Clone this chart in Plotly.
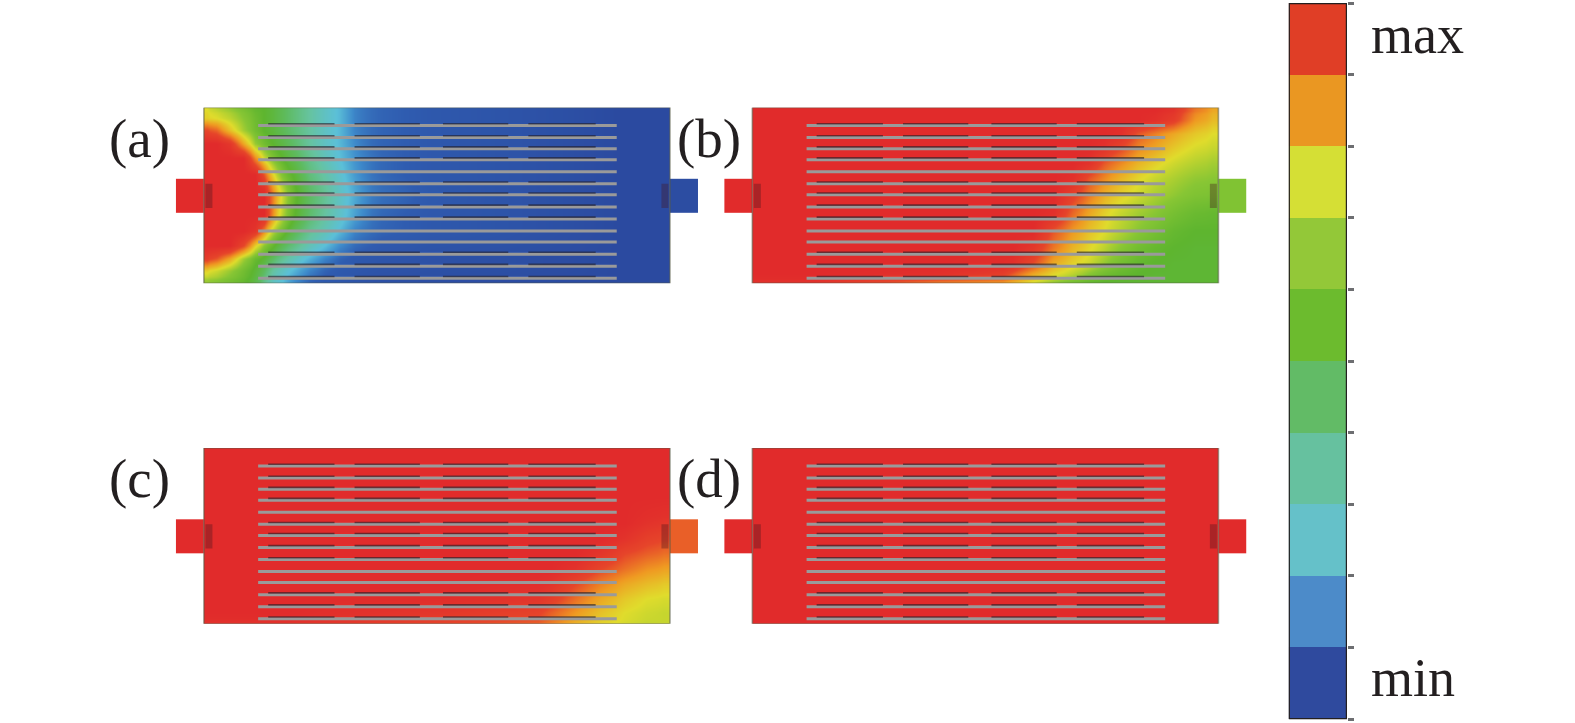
import plotly.graph_objects as go

W, H = 1575, 723
SCALE = 1575 / 1568  # layout numbers below were measured on a 1568 px wide view

# ---- colour scales
FIELD_STOPS = [0, 0.07, 0.13, 0.2, 0.3, 0.4, 0.5, 0.6, 0.7, 0.8, 0.9, 1]
FIELD_COLORS = ["#2b4aa0", "#2f5cb0", "#3f8ccc", "#5cc0d8", "#66c3a0", "#5ebb60",
                "#5eb52f", "#88c634", "#e0dc2c", "#ef9a22", "#e6452a", "#e12b2b"]
BAND_COLORS = ["#2f4a9e", "#4c8bc9", "#65c1c9", "#66c19f", "#62bb66",
               "#6cbb2e", "#93c838", "#d5df35", "#ea9722", "#e03e26"]
BAND_EDGES = [0, 1, 2, 3, 4, 5, 6, 7, 8, 9, 10]

# ---- panel a
XA = [0, 12, 25, 40, 52, 60, 68, 78, 90, 105, 120, 135, 150, 165, 190, 260, 464]
YA = [0, 10, 22, 35, 50, 65, 87, 108, 123, 138, 150, 162, 175]
ZA = [
    [.70, .66, .62, .57, .52, .50, .47, .42, .36, .30, .24, .19, .12, .09, .07, .04, 0],
    [.72, .70, .66, .60, .54, .50, .47, .42, .36, .30, .24, .19, .12, .09, .07, .04, 0],
    [.90, .86, .74, .63, .55, .50, .47, .42, .36, .30, .24, .19, .12, .09, .07, .04, 0],
    [1, 1, .95, .78, .62, .55, .50, .45, .38, .30, .24, .19, .13, .09, .07, .04, 0],
    [1, 1, 1, 1, .82, .68, .58, .50, .42, .33, .26, .20, .14, .10, .07, .04, 0],
    [1, 1, 1, 1, 1, .88, .72, .58, .48, .36, .29, .22, .15, .10, .07, .04, 0],
    [1, 1, 1, 1, 1, 1, .84, .68, .52, .40, .32, .24, .17, .11, .08, .04, 0],
    [1, 1, 1, 1, 1, 1, .82, .65, .50, .38, .30, .23, .16, .10, .07, .04, 0],
    [1, 1, 1, 1, .96, .82, .66, .55, .42, .32, .26, .19, .12, .09, .07, .04, 0],
    [1, 1, 1, .90, .72, .60, .52, .42, .34, .26, .20, .13, .09, .07, .05, .03, 0],
    [.93, .88, .78, .63, .53, .48, .40, .32, .25, .18, .12, .08, .06, .05, .04, .02, 0],
    [.72, .68, .62, .55, .48, .40, .30, .24, .18, .12, .08, .06, .05, .04, .03, .02, 0],
    [.62, .60, .56, .52, .45, .34, .25, .20, .13, .08, .06, .05, .04, .03, .02, .01, 0],
]

# ---- panel b
XB = [0, 240, 258, 280, 300, 320, 335, 350, 365, 385, 400, 418, 440, 464]
YB = [0, 12, 25, 40, 55, 70, 87, 105, 123, 140, 155, 165, 175]
ZB = [
    [1, 1, 1, 1, 1, 1, 1, 1, 1, 1, 1, .97, .84, .78],
    [1, 1, 1, 1, 1, 1, 1, 1, 1, 1, .98, .93, .80, .75],
    [1, 1, 1, 1, 1, 1, 1, 1, .98, .88, .83, .78, .73, .70],
    [1, 1, 1, 1, 1, 1, 1, .97, .90, .82, .78, .73, .69, .67],
    [1, 1, 1, 1, 1, 1, .97, .88, .82, .76, .72, .68, .65, .63],
    [1, 1, 1, 1, 1, .98, .88, .82, .76, .71, .67, .64, .61, .60],
    [1, 1, 1, 1, 1, .92, .84, .77, .72, .68, .64, .61, .58, .57],
    [1, 1, 1, 1, .98, .86, .78, .72, .67, .63, .60, .56, .53, .52],
    [1, 1, 1, 1, .88, .80, .74, .70, .65, .60, .56, .52, .50, .50],
    [1, 1, 1, .95, .84, .76, .71, .66, .60, .55, .52, .50, .49, .49],
    [1, 1, .98, .90, .78, .72, .68, .62, .56, .52, .50, .49, .49, .49],
    [1, .98, .88, .78, .71, .66, .60, .55, .52, .50, .49, .49, .49, .49],
    [.98, .85, .78, .70, .62, .56, .52, .50, .49, .49, .49, .49, .49, .49],
]

# ---- panel c
XC = [0, 320, 345, 370, 395, 420, 440, 464]
YC = [0, 60, 75, 90, 105, 120, 135, 150, 165, 175]
ZC = [
    [1, 1, 1, 1, 1, 1, 1, 1],
    [1, 1, 1, 1, 1, 1, 1, 1],
    [1, 1, 1, 1, 1, 1, .97, .95],
    [1, 1, 1, 1, 1, .97, .92, .90],
    [1, 1, 1, 1, .96, .90, .87, .85],
    [1, 1, 1, .97, .90, .85, .81, .79],
    [1, 1, .97, .90, .83, .78, .75, .73],
    [1, .99, .93, .85, .78, .73, .70, .69],
    [1, .95, .87, .80, .74, .70, .68, .67],
    [.98, .91, .84, .77, .72, .69, .67, .67],
]

# ---- panel d
XD = [0, 464]
YD = [0, 175]
ZD = [[1, 1], [1, 1]]

PANEL_FIELDS = [(XA, YA, ZA), (XB, YB, ZB), (XC, YC, ZC), (XD, YD, ZD)]
PANEL_NAMES = ["(a)", "(b)", "(c)", "(d)"]
INLET_VALUES = [1, 1, 1, 1]
OUTLET_VALUES = [0.01, 0.58, 0.87, 1]

# ---- plate geometry (units: plate width 464, height 175)
STUB_IN_X = [-28, 0]
STUB_OUT_X = [464, 492]
STUB_Y = [71, 105]
SLOT_Y = [18, 30, 41, 52, 64, 76, 87, 99, 111, 123, 134, 146, 158, 170]
SLOT_X = [54, 411]
DARK_SLOTS = [0, 1, 2, 3, 5, 6, 7, 8, 11, 12, 13]
DARK_SEGMENTS = [(64, 130), (150, 215), (238, 303), (323, 390)]
PORT_Y = [76, 100]

# ---- panel placement (left, top of plate) and label centres
PANEL_ORIGINS = [(203, 107), (749, 107), (203, 446), (749, 446)]
LABEL_CENTERS = [(139, 138), (706, 138), (139, 476), (706, 476)]


def edges(pos):
    """Cell edges around the sample positions, closed at the plate border."""
    mids = [(a + b) / 2 for a, b in zip(pos[:-1], pos[1:])]
    return [pos[0]] + mids + [pos[-1]]


fs = [[s, c] for s, c in zip(FIELD_STOPS, FIELD_COLORS)]
fig = go.Figure()
layout = dict(
    width=W, height=H, margin=dict(l=0, r=0, t=0, b=0, pad=0, autoexpand=False),
    paper_bgcolor="white", plot_bgcolor="white", showlegend=False, autosize=False,
)
hidden = dict(visible=False, showgrid=False, zeroline=False, fixedrange=True)
annotations = []


def fx_(px):
    return px * SCALE / W


def fy_(py):
    return 1 - py * SCALE / H


for i, ((x0, y0), (fx, fy, fz)) in enumerate(zip(PANEL_ORIGINS, PANEL_FIELDS)):
    n = i + 1
    xa, ya = f"x{n}", f"y{n}"
    left, right = x0 + STUB_IN_X[0], x0 + STUB_OUT_X[1]
    top, bot = y0, y0 + 175
    layout[f"xaxis{n}"] = dict(hidden, domain=[fx_(left), fx_(right)],
                               range=[STUB_IN_X[0], STUB_OUT_X[1]], anchor=ya)
    layout[f"yaxis{n}"] = dict(hidden, domain=[fy_(bot), fy_(top)],
                               range=[175, 0], anchor=xa)
    fig.add_trace(go.Heatmap(x=edges(fx), y=edges(fy), z=fz, xaxis=xa, yaxis=ya, zmin=0, zmax=1,
                             colorscale=fs, showscale=False, zsmooth="best",
                             hoverinfo="skip"))
    for sx, val in ((STUB_IN_X, INLET_VALUES[i]), (STUB_OUT_X, OUTLET_VALUES[i])):
        fig.add_trace(go.Heatmap(x=sx, y=STUB_Y, z=[[val]],
                                 xaxis=xa, yaxis=ya, zmin=0, zmax=1, colorscale=fs,
                                 showscale=False, hoverinfo="skip"))
    # frame
    fig.add_trace(go.Scatter(x=[0, 464, 464, 0, 0], y=[0, 0, 175, 175, 0], xaxis=xa, yaxis=ya,
                             mode="lines", line=dict(color="rgba(85,90,70,0.55)", width=1.6),
                             hoverinfo="skip"))
    # ports
    for px in (5, 459):
        fig.add_trace(go.Scatter(x=[px, px], y=PORT_Y, xaxis=xa, yaxis=ya, mode="lines",
                                 line=dict(color="rgba(70,20,30,0.35)", width=7),
                                 hoverinfo="skip"))
    # slots
    gx, gy = [], []
    for s in SLOT_Y:
        gx += [SLOT_X[0], SLOT_X[1], None]
        gy += [s, s, None]
    fig.add_trace(go.Scatter(x=gx, y=gy, xaxis=xa, yaxis=ya, mode="lines",
                             line=dict(color="#9a9a9a", width=3), hoverinfo="skip",
                             connectgaps=False))
    dx, dy = [], []
    for k in DARK_SLOTS:
        for a, b in DARK_SEGMENTS:
            dx += [a, b, None]
            dy += [SLOT_Y[k] - 1.8, SLOT_Y[k] - 1.8, None]
    fig.add_trace(go.Scatter(x=dx, y=dy, xaxis=xa, yaxis=ya, mode="lines",
                             line=dict(color="rgba(35,30,40,0.6)", width=1.6), hoverinfo="skip",
                             connectgaps=False))
    lx, ly = LABEL_CENTERS[i]
    annotations.append(dict(text=PANEL_NAMES[i], xref="paper", yref="paper",
                            x=fx_(lx), y=fy_(ly), xanchor="center", yanchor="middle",
                            showarrow=False, font=dict(family="Liberation Serif", size=55, color="#231f20")))

# ---- colour bar
n = 5
layout[f"xaxis{n}"] = dict(hidden, domain=[fx_(1283), fx_(1341)], range=[0, 1], anchor=f"y{n}")
layout[f"yaxis{n}"] = dict(domain=[fy_(716), fy_(3)], range=[0, 10], anchor=f"x{n}", side="right",
                           tickmode="array", tickvals=BAND_EDGES, ticktext=[""] * 11, ticks="outside",
                           ticklen=6, tickwidth=2.5, tickcolor="#6d6e71", showgrid=False, zeroline=False,
                           fixedrange=True, showline=False)
steps = []
for k, c in enumerate(BAND_COLORS):
    steps += [[k / 10, c], [(k + 1) / 10, c]]
fig.add_trace(go.Heatmap(x=[0, 1], y=BAND_EDGES, z=[[k + .5] for k in range(10)],
                         xaxis=f"x{n}", yaxis=f"y{n}", zmin=0, zmax=10, colorscale=steps,
                         showscale=False, hoverinfo="skip"))
fig.add_trace(go.Scatter(x=[0, 0, 1, 1, 0], y=[0, 10, 10, 0, 0], xaxis=f"x{n}", yaxis=f"y{n}",
                         mode="lines", line=dict(color="#231f20", width=2.4), hoverinfo="skip",
                         cliponaxis=False))
for label, py in (("max", 35), ("min", 675)):
    annotations.append(dict(text=label, xref="paper", yref="paper", x=fx_(1363), y=fy_(py),
                            xanchor="left", yanchor="middle", showarrow=False,
                            font=dict(family="Liberation Serif", size=54, color="#231f20")))

layout["annotations"] = annotations
fig.update_layout(**layout)
fig.write_html("out.html", config={"displayModeBar": False},
               post_script="document.documentElement.style.margin='0';document.body.style.margin='0';document.body.style.overflow='hidden';")
